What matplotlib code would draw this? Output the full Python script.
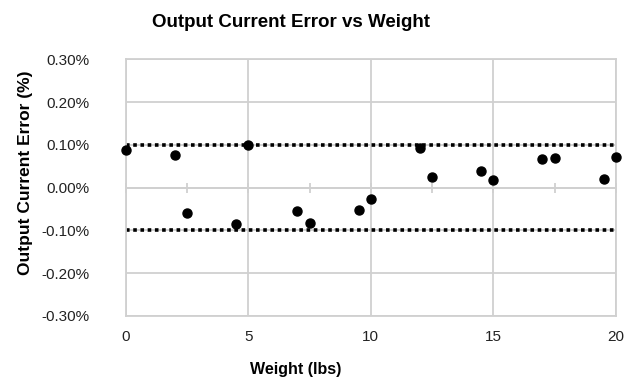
import matplotlib
matplotlib.use('Agg')
import matplotlib.pyplot as plt
from matplotlib.ticker import FuncFormatter, MultipleLocator

plt.rcParams['font.family'] = ['Liberation Sans', 'DejaVu Sans']

# data (weight in lbs, error in %)
weights = [0, 2, 2.5, 4.5, 5, 7, 7.5, 9.5, 10, 12, 12.5, 14.5, 15, 17, 17.5, 19.5, 20]
errors = [0.089, 0.076, -0.059, -0.084, 0.100, -0.054, -0.082, -0.052, -0.026,
          0.093, 0.026, 0.040, 0.018, 0.067, 0.070, 0.021, 0.072]
limits = [0.10, -0.10]

grid_col = '#d0d0d0'

fig = plt.figure(figsize=(6.26, 3.83), dpi=100)
ax = fig.add_axes([0.2008, 0.175, 0.7832, 0.670])

ax.set_xlim(0, 20)
ax.set_ylim(-0.30, 0.30)
ax.xaxis.set_major_locator(MultipleLocator(5))
ax.yaxis.set_major_locator(MultipleLocator(0.10))
ax.yaxis.set_major_formatter(FuncFormatter(lambda v, p: '%.2f%%' % v))

ax.grid(True, color=grid_col, linewidth=1.3, zorder=0)
for s in ax.spines.values():
    s.set_color(grid_col)
    s.set_linewidth(1.3)
ax.tick_params(length=0, labelsize=11, colors='#222222')
ax.tick_params(axis='y', pad=26)
ax.tick_params(axis='x', pad=10)

# zero axis with minor tick marks like the excel original
ax.axhline(0, color=grid_col, linewidth=1.3, zorder=1)
zero_ax = ax.secondary_xaxis(0.5)
zero_ax.xaxis.set_major_locator(MultipleLocator(2.5))
zero_ax.tick_params(direction='inout', length=7, width=1.3, color=grid_col,
                    labelbottom=False, labeltop=False)
for s in zero_ax.spines.values():
    s.set_visible(False)

for lim in limits:
    ax.axhline(lim, color='black', linewidth=2.6, linestyle=(0, (1, 1)),
               dash_capstyle='butt', zorder=2)

ax.plot(weights, errors, 'o', color='black', markersize=6.5, zorder=3, clip_on=False)

fig.text(0.465, 0.942, 'Output Current Error vs Weight', ha='center', va='center',
         fontsize=13.5, fontweight='bold')
fig.text(0.472, 0.035, 'Weight (lbs)', ha='center', va='center',
         fontsize=11.5, fontweight='bold')
fig.text(0.04, 0.548, 'Output Current Error (%)', ha='center', va='center',
         rotation=90, fontsize=12.5, fontweight='bold')

plt.savefig('out.png', dpi=100)
